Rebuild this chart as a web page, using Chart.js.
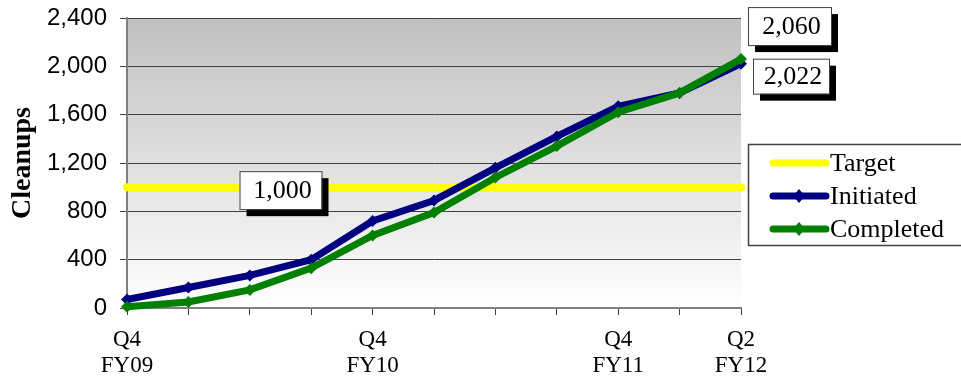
<!DOCTYPE html>
<html><head><meta charset="utf-8">
<script src="https://cdn.jsdelivr.net/npm/chart.js@4/dist/chart.umd.min.js"></script>
<style>html,body{margin:0;padding:0;background:#fff;overflow:hidden}#wrap{width:961px;height:378px;position:relative}</style>
</head><body><div id="wrap"><canvas id="c" width="961" height="378"></canvas></div>
<script>
const categories = ['Q4 FY09','Q1 FY10','Q2 FY10','Q3 FY10','Q4 FY10','Q1 FY11','Q2 FY11','Q3 FY11','Q4 FY11','Q1 FY12','Q2 FY12'];
const xTickLabels = [['Q4','FY09'],'','','',['Q4','FY10'],'','','',['Q4','FY11'],'',['Q2','FY12']];
const targetValues = [1000,1000,1000,1000,1000,1000,1000,1000,1000,1000,1000];
const initiatedValues = [70,170,270,400,720,890,1160,1420,1670,1780,2022];
const completedValues = [10,50,150,330,600,790,1080,1340,1620,1780,2060];
const yTicks = [0,400,800,1200,1600,2000,2400];

const fmt = v => v.toLocaleString('en-US');
const SERIF = "'Liberation Serif','Times New Roman',serif";
const SANS = "'Liberation Sans',Arial,sans-serif";

const bgPlugin = {
  id:'bg',
  beforeDraw(chart){
    const {ctx, chartArea:a} = chart;
    const g = ctx.createLinearGradient(0,a.top,0,a.bottom);
    g.addColorStop(0,'#c0c0c0');
    g.addColorStop(1,'#ffffff');
    ctx.save(); ctx.fillStyle=g; ctx.fillRect(a.left,a.top,a.right-a.left,a.bottom-a.top); ctx.restore();
  }
};

function valueBox(ctx, text, x, y, w, h){
  ctx.save();
  ctx.fillStyle='#000';
  ctx.fillRect(x+7,y+7,w,h);
  ctx.fillStyle='#fff';
  ctx.fillRect(x,y,w,h);
  ctx.strokeStyle='#404040'; ctx.lineWidth=1;
  ctx.strokeRect(x+0.5,y+0.5,w,h);
  ctx.fillStyle='#000';
  ctx.font='26px '+SERIF;
  ctx.textAlign='center'; ctx.textBaseline='middle';
  ctx.fillText(text, x+w/2+2, y+h/2+1);
  ctx.restore();
}

const annoPlugin = {
  id:'anno',
  afterDatasetsDraw(chart){
    const {ctx, scales:{x,y}, chartArea:a} = chart;
    const ty = y.getPixelForValue(targetValues[2]);
    const tx = x.getPixelForValue(2.5);
    valueBox(ctx, fmt(targetValues[2]), tx-41, ty-16, 82, 38);
    const last = categories.length-1;
    const cy = y.getPixelForValue(completedValues[last]);
    valueBox(ctx, fmt(completedValues[last]), a.right+7, cy-52, 83, 38);
    const iy = y.getPixelForValue(initiatedValues[last]);
    valueBox(ctx, fmt(initiatedValues[last]), a.right+12, iy-5, 76, 35);
  }
};

const legendPlugin = {
  id:'customLegend',
  afterDraw(chart){
    const {ctx} = chart;
    const ds = chart.data.datasets;
    const order = [2,1,0];
    ctx.save();
    ctx.fillStyle='#fff';
    ctx.fillRect(748,144,220,102);
    ctx.strokeStyle='#404040'; ctx.lineWidth=1.5;
    ctx.strokeRect(748.5,144.5,220,101);
    order.forEach((di,i)=>{
      const d = ds[di];
      const yy = 163 + i*33;
      ctx.strokeStyle=d.borderColor; ctx.lineWidth=7; ctx.lineCap='round';
      ctx.beginPath(); ctx.moveTo(773,yy); ctx.lineTo(826,yy); ctx.stroke();
      if (d.pointRadius>0){
        ctx.fillStyle=d.borderColor;
        ctx.beginPath(); ctx.moveTo(799,yy-7); ctx.lineTo(805,yy); ctx.lineTo(799,yy+7); ctx.lineTo(793,yy); ctx.closePath(); ctx.fill();
      }
      ctx.fillStyle='#000'; ctx.font='26px '+SERIF; ctx.textAlign='left'; ctx.textBaseline='middle';
      ctx.fillText(d.label, 830, yy+1);
    });
    ctx.restore();
  }
};

new Chart(document.getElementById('c'), {
  type:'line',
  data:{
    labels: categories,
    datasets:[
      {label:'Completed', data:completedValues, borderColor:'#008000', backgroundColor:'#008000', borderWidth:7, pointStyle:'rectRot', pointRadius:6, pointBorderWidth:0, order:1, clip:12, tension:0},
      {label:'Initiated', data:initiatedValues, borderColor:'#000080', backgroundColor:'#000080', borderWidth:7, pointStyle:'rectRot', pointRadius:6, pointBorderWidth:0, order:2, clip:12, tension:0},
      {label:'Target', data:targetValues, borderColor:'#ffff00', backgroundColor:'#ffff00', borderWidth:8, pointRadius:0, order:3, clip:12, borderCapStyle:'round'}
    ]
  },
  options:{
    responsive:false, animation:false, devicePixelRatio:1,
    layout:{padding:{top:18,right:220,left:0,bottom:0}},
    plugins:{legend:{display:false}, tooltip:{enabled:false}},
    scales:{
      x:{
        offset:false,
        afterFit(s){ s.height = 70; s.paddingLeft = 0; s.paddingRight = 0; },
        grid:{drawOnChartArea:false, drawTicks:true, tickLength:7, color:'#404040', lineWidth:1},
        border:{display:true, color:'#808080', width:2},
        ticks:{autoSkip:false, maxRotation:0, minRotation:0, padding:12, color:'#000',
          font:{family:SERIF, size:23, lineHeight:1.13},
          callback:(v,i)=>xTickLabels[i]}
      },
      y:{
        min:0, max:2400,
        afterFit(s){ s.width = 127; s.paddingTop = 0; s.paddingBottom = 0; },
        afterBuildTicks(s){ s.ticks = yTicks.map(v=>({value:v})); },
        grid:{color:'#404040', lineWidth:1, tickLength:7},
        border:{display:true, color:'#808080', width:2},
        ticks:{padding:13, color:'#000', font:{family:SANS, size:24}, callback:v=>fmt(v)},
        title:{display:true, text:'Cleanups', color:'#000', font:{family:SERIF, size:28, weight:'bold'}, padding:{top:6,bottom:0}}
      }
    }
  },
  plugins:[bgPlugin, annoPlugin, legendPlugin]
});
</script></body></html>
